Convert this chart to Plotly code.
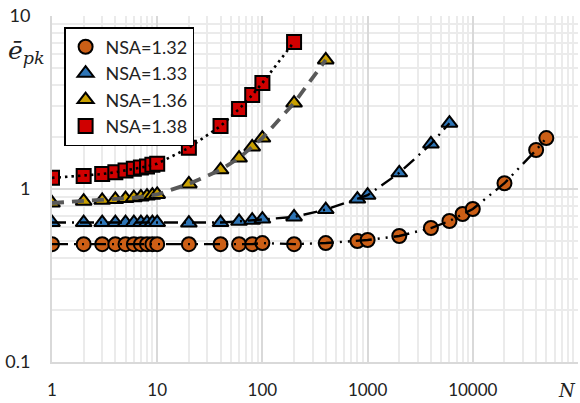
import plotly.graph_objects as go

# ---- data ----
n_132 = [1, 2, 3, 4, 5, 6, 7, 8, 9, 10, 20, 40, 60, 80, 100, 200, 400, 800, 1000, 2000, 4000, 6000, 8000, 10000, 20000, 40000, 50000]
e_132 = [0.48, 0.48, 0.48, 0.48, 0.48, 0.48, 0.48, 0.48, 0.48, 0.48, 0.48, 0.48, 0.48, 0.48, 0.487, 0.48, 0.487, 0.50, 0.507, 0.535, 0.595, 0.653, 0.717, 0.766, 1.08, 1.68, 1.97]

n_133 = [1, 2, 3, 4, 5, 6, 7, 8, 9, 10, 20, 40, 60, 80, 100, 200, 400, 800, 1000, 2000, 4000, 6000]
e_133 = [0.64, 0.64, 0.64, 0.64, 0.64, 0.64, 0.64, 0.64, 0.64, 0.64, 0.635, 0.64, 0.65, 0.66, 0.67, 0.69, 0.76, 0.875, 0.92, 1.24, 1.82, 2.4]

n_136 = [1, 2, 3, 4, 5, 6, 7, 8, 9, 10, 20, 40, 60, 80, 100, 200, 400]
e_136 = [0.83, 0.85, 0.86, 0.87, 0.88, 0.89, 0.90, 0.91, 0.92, 0.93, 1.07, 1.29, 1.51, 1.75, 1.97, 3.14, 5.57]

n_138 = [1, 2, 3, 4, 5, 6, 7, 8, 9, 10, 20, 40, 60, 80, 100, 200]
e_138 = [1.16, 1.19, 1.22, 1.25, 1.28, 1.31, 1.33, 1.35, 1.38, 1.40, 1.73, 2.31, 2.9, 3.49, 4.1, 7.08]

series_names = ["NSA=1.32", "NSA=1.33", "NSA=1.36", "NSA=1.38"]
x_ticks = [1, 10, 100, 1000, 10000]
x_tick_text = ["1", "10", "100", "1000", "10000"]
y_ticks = [0.1, 1, 10]
y_tick_text = ["0.1", "1", "10"]

# ---- styles ----
series = [
    (n_132, e_132, "circle", "#CC5F16", "black", "16px,6px,2px,6px,2px,6px", 2.4),
    (n_133, e_133, "triangle-up", "#2E75B6", "black", "14px,6px,2px,6px", 2.4),
    (n_136, e_136, "triangle-up", "#C9A000", "#595959", "12px,8px", 3.8),
    (n_138, e_138, "square", "#D00000", "black", "2.5px,4px", 2.6),
]

fig = go.Figure()
for (x, y, sym, col, lcol, dash, lw), name in zip(series, series_names):
    fig.add_trace(go.Scatter(
        x=x, y=y, mode="markers", name=name,
        marker=dict(symbol=sym, size=14, color=col, line=dict(color="black", width=2)),
    ))
for (x, y, sym, col, lcol, dash, lw), name in zip(series, series_names):
    fig.add_trace(go.Scatter(
        x=x, y=y, mode="lines", showlegend=False, hoverinfo="skip",
        line=dict(color=lcol, width=lw, dash=dash),
    ))

font_family = "Lato, 'Open Sans', sans-serif"
fig.update_layout(
    width=580, height=403,
    margin=dict(l=52, r=2, t=16, b=41),
    paper_bgcolor="white", plot_bgcolor="white",
    font=dict(family=font_family, size=18, color="#222222"),
    showlegend=True,
    legend=dict(
        x=0.023, y=0.968, xanchor="left", yanchor="top",
        bgcolor="white", bordercolor="black", borderwidth=1.5,
        font=dict(family=font_family, size=18, color="#222222"),
    ),
    xaxis=dict(
        type="log", range=[0, 5], automargin=False,
        tickvals=x_ticks, ticktext=x_tick_text,
        tickfont=dict(size=17),
        showgrid=True, gridcolor="#d9d9d9", gridwidth=2,
        minor=dict(showgrid=True, gridcolor="#ebebeb", gridwidth=2, dtick="D1"),
        ticks="outside", ticklen=12, tickcolor="rgba(0,0,0,0)",
        showline=True, linecolor="#d9d9d9", linewidth=2,
        zeroline=False,
    ),
    yaxis=dict(
        type="log", range=[-1, 1], automargin=False,
        tickvals=y_ticks, ticktext=y_tick_text,
        showgrid=True, gridcolor="#d9d9d9", gridwidth=2,
        minor=dict(showgrid=True, gridcolor="#ebebeb", gridwidth=2, dtick="D1"),
        ticks="outside", ticklen=16, tickcolor="rgba(0,0,0,0)",
        showline=True, linecolor="#d9d9d9", linewidth=2,
        zeroline=False,
    ),
    annotations=[
        dict(text="<i>ē</i><sub><i>pk</i></sub>", x=(6 - 52) / 526, y=(362 - 52) / 346,
             xref="paper", yref="paper", showarrow=False,
             font=dict(family="'DejaVu Serif', serif", size=25, color="#222222"),
             xanchor="left", yanchor="middle"),
        dict(text="<i>N</i>", x=1.0, y=0, xref="paper", yref="paper",
             showarrow=False, font=dict(family="'DejaVu Serif', serif", size=18, color="#222222"),
             xanchor="right", yanchor="top", yshift=-16),
    ],
)
fig.write_html("out.html")
